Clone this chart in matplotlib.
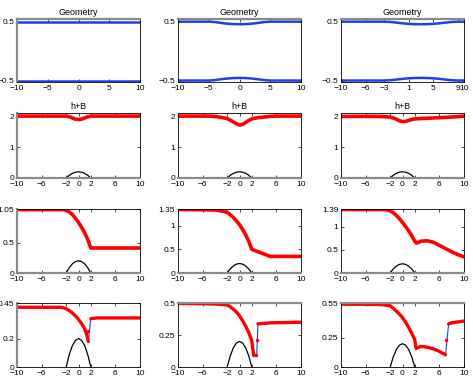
import numpy as np
import matplotlib
matplotlib.use("Agg")
import matplotlib.pyplot as plt

plt.rcParams['font.family'] = ['Liberation Sans', 'DejaVu Sans']

# bump B(x)
bump_x = [-2, -1.5, -1, -0.5, 0, 0.5, 1, 1.5, 2]
bump_y = [0, 0.0875, 0.15, 0.1875, 0.2, 0.1875, 0.15, 0.0875, 0]

# geometry: upper wall (lower wall is the mirror)
geo1_x = [-10, 10]
geo1_top = [0.5, 0.5]
geo2_x = [-10, -5, -4, -3, -2, -1, 0, 1, 2, 3, 4, 5, 10]
geo2_top = [0.5, 0.5, 0.493, 0.478, 0.466, 0.458, 0.455, 0.458, 0.466, 0.478, 0.493, 0.5, 0.5]
geo3_x = [-10, -3, -2, -1, 0, 1, 2, 3, 4, 5, 6, 7, 8, 9, 10]
geo3_top = [0.5, 0.5, 0.495, 0.484, 0.472, 0.462, 0.457, 0.455, 0.457, 0.462, 0.472, 0.484, 0.495, 0.5, 0.5]
geo_xticks = [[-10, -5, 0, 5, 10], [-10, -5, 0, 5, 10], [-10, -6, -3, 1, 5, 9, 10]]

# h+B
hb_x1 = [-10, -2, -1.5, -1, -0.5, 0, 0.5, 1, 1.5, 2, 10]
hb_y1 = [2.0, 2.0, 1.98, 1.94, 1.9, 1.89, 1.9, 1.94, 1.98, 2.0, 2.0]
hb_x2 = [-10, -5, -4, -3, -2, -1.5, -1, -0.5, 0, 0.5, 1, 1.5, 2, 3, 4, 5, 6, 10]
hb_y2 = [2.0, 2.0, 1.99, 1.96, 1.92, 1.87, 1.81, 1.75, 1.71, 1.73, 1.79, 1.86, 1.91, 1.95, 1.97, 1.99, 2.0, 2.0]
hb_x3 = [-10, -4, -3, -2, -1.5, -1, -0.5, 0, 0.5, 1, 1.5, 2, 3, 4, 6, 8, 10]
hb_y3 = [1.99, 1.99, 1.98, 1.97, 1.94, 1.9, 1.85, 1.82, 1.83, 1.86, 1.89, 1.91, 1.92, 1.93, 1.95, 1.97, 2.0]

# third row
r3_x1 = [-10, -2.5, -2, -1.5, -1, -0.5, 0, 0.5, 1, 1.5, 2, 10]
r3_y1 = [1.04, 1.04, 1.03, 1.0, 0.96, 0.9, 0.83, 0.75, 0.66, 0.55, 0.41, 0.41]
r3_x2 = [-10, -4, -3, -2, -1.5, -1, -0.5, 0, 0.5, 1, 1.5, 2, 3, 4, 5, 10]
r3_y2 = [1.34, 1.33, 1.31, 1.28, 1.23, 1.17, 1.1, 1.02, 0.92, 0.81, 0.67, 0.5, 0.45, 0.4, 0.35, 0.35]
r3_x3 = [-10, -3, -2.5, -2, -1.5, -1, -0.5, 0, 0.5, 1, 1.5, 2, 2.3, 3, 4, 5, 6, 7, 8, 9, 10]
r3_y3 = [1.38, 1.38, 1.37, 1.35, 1.31, 1.25, 1.18, 1.1, 1.01, 0.92, 0.81, 0.69, 0.65, 0.69, 0.70, 0.67, 0.60, 0.53, 0.46, 0.40, 0.35]

# fourth row, np.nan marks the jump
r4_x1 = [-10, -3, -2.5, -2, -1.5, -1, -0.5, 0, 0.5, 1, 1.3, 1.6, 1.6, 2, 3, 10]
r4_y1 = [0.42, 0.42, 0.417, 0.41, 0.397, 0.38, 0.36, 0.335, 0.305, 0.27, 0.235, 0.18, np.nan, 0.34, 0.345, 0.345]
r4_j1 = [1.6, 0.18, 0.33]
r4_x2 = [-10, -4, -3, -2, -1.5, -1, -0.5, 0, 0.5, 1, 1.5, 2, 2.3, 2.8, 2.8, 3, 5, 10]
r4_y2 = [0.497, 0.492, 0.489, 0.485, 0.47, 0.452, 0.43, 0.4, 0.362, 0.32, 0.27, 0.205, 0.09, 0.09, np.nan, 0.337, 0.345, 0.35]
r4_j2 = [2.8, 0.09, 0.33]
r4_x3 = [-10, -4, -3, -2, -1.5, -1, -0.5, 0, 0.5, 1, 1.5, 2, 2.2, 3, 4, 5, 6, 7, 7, 7.5, 8, 10]
r4_y3 = [0.54, 0.538, 0.534, 0.525, 0.505, 0.48, 0.455, 0.425, 0.385, 0.34, 0.29, 0.235, 0.16, 0.177, 0.17, 0.157, 0.134, 0.105, np.nan, 0.37, 0.38, 0.395]
r4_j3 = [7.0, 0.105, 0.355]

row_xticks = [-10, -6, -2, 0, 2, 6, 10]
r3_yticks = [[0, 0.5, 1.05], [0, 0.5, 1, 1.35], [0, 0.5, 1, 1.39]]
r4_yticks = [[0, 0.2, 0.45], [0, 0.25, 0.5], [0, 0.25, 0.55]]

red = '#ff0000'
blue = '#1f3fe8'
gray = '#8a8a8a'

fig = plt.figure(figsize=(4.73, 3.77), dpi=100)
W, H = 473.0, 377.0
lefts = [17, 178, 341]
rows = [(19, 82), (113, 178), (209, 273), (303, 367)]
axw = 123


def make_ax(col, row):
    top, bot = rows[row]
    ax = fig.add_axes([lefts[col] / W, 1 - bot / H, axw / W, (bot - top) / H])
    ax.tick_params(direction='in', length=2, width=0.5, labelsize=6, pad=2,
                   top=True, right=True)
    for s in ax.spines.values():
        s.set_linewidth(0.6)
    ax.set_xlim(-10, 10)
    return ax


def grey_spine(ax, side):
    ax.spines[side].set_color(gray)
    ax.spines[side].set_linewidth(1.6)


# row 1: geometry
geos = [(geo1_x, geo1_top), (geo2_x, geo2_top), (geo3_x, geo3_top)]
for c, (gx, gt) in enumerate(geos):
    ax = make_ax(c, 0)
    ax.plot(gx, gt, color=blue, lw=1.8)
    ax.plot(gx, -np.array(gt), color=blue, lw=1.8)
    ax.set_ylim(-0.525, 0.545)
    ax.set_yticks([-0.5, 0.5])
    ax.set_yticklabels(['\u22120.5', '0.5'])
    ax.set_xticks(geo_xticks[c])
    ax.set_xticklabels([str(t).replace('-', '\u2212') for t in geo_xticks[c]])
    ax.set_title('Geometry', fontsize=6.5, pad=3)
    grey_spine(ax, 'top')
    if c == 0:
        grey_spine(ax, 'left')


def set_xt(ax):
    ax.set_xticks(row_xticks)
    ax.set_xticklabels([str(t).replace('-', '\u2212') for t in row_xticks])


# row 2: h+B
hbs = [(hb_x1, hb_y1), (hb_x2, hb_y2), (hb_x3, hb_y3)]
for c, (hx, hy) in enumerate(hbs):
    ax = make_ax(c, 1)
    ax.plot(bump_x, bump_y, color='black', lw=0.9)
    ax.plot(hx, hy, color=red, lw=2.6, solid_capstyle='round')
    ax.set_ylim(0, 2.1)
    ax.set_yticks([0, 1, 2])
    set_xt(ax)
    ax.set_title('h+B', fontsize=6.5, pad=3)
    grey_spine(ax, 'bottom')
    if c == 0:
        grey_spine(ax, 'left')

# row 3
r3 = [(r3_x1, r3_y1), (r3_x2, r3_y2), (r3_x3, r3_y3)]
for c, (qx, qy) in enumerate(r3):
    ax = make_ax(c, 2)
    ax.plot(bump_x, bump_y, color='black', lw=0.9)
    ax.plot(qx, qy, color=red, lw=2.6, solid_capstyle='round')
    ax.set_ylim(0, r3_yticks[c][-1])
    ax.set_yticks(r3_yticks[c])
    ax.set_yticklabels([('%g' % t) for t in r3_yticks[c]])
    set_xt(ax)
    grey_spine(ax, 'bottom')
    if c == 0:
        grey_spine(ax, 'left')

# row 4
r4 = [(r4_x1, r4_y1, r4_j1), (r4_x2, r4_y2, r4_j2), (r4_x3, r4_y3, r4_j3)]
for c, (ux, uy, jump) in enumerate(r4):
    ax = make_ax(c, 3)
    ax.plot(bump_x, bump_y, color='black', lw=0.9)
    ux = np.array(ux)
    uy = np.array(uy)
    ok = ~np.isnan(uy)
    ax.plot(ux[ok], uy[ok], color=blue, lw=0.8)
    ax.plot(ux, uy, color=red, lw=2.4, solid_capstyle='round')
    ax.plot([jump[0]], [(jump[1] + jump[2]) / 2], 'o', color=red, ms=1.5)
    ax.set_ylim(0, r4_yticks[c][-1])
    ax.set_yticks(r4_yticks[c])
    ax.set_yticklabels([('%g' % t) for t in r4_yticks[c]])
    set_xt(ax)
    if c == 0:
        grey_spine(ax, 'left')
    else:
        grey_spine(ax, 'top')

fig.savefig('out.png', dpi=100)
